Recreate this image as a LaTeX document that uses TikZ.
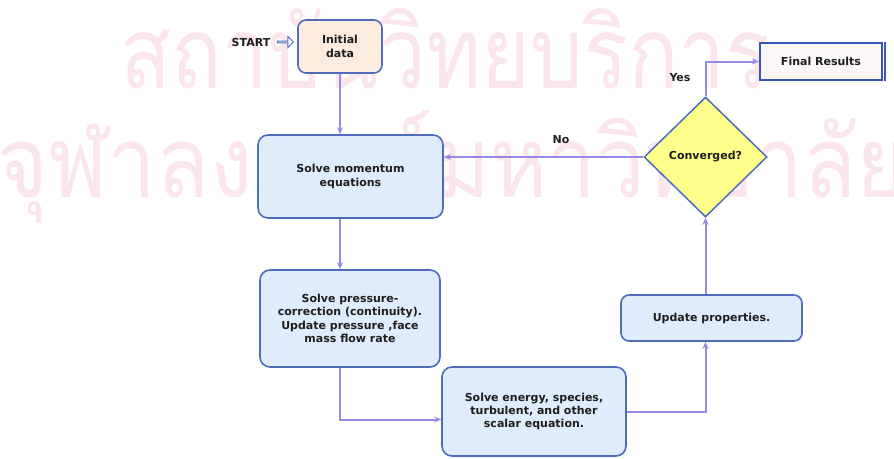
\documentclass[tikz,border=0pt]{standalone}
\usepackage{fontspec}
\setmainfont{DejaVu Sans}
\newfontfamily\thaifont[Script=Thai]{Loma}
\usepackage{graphicx}
\usetikzlibrary{arrows.meta,shapes.geometric,shapes.arrows,calc}
\definecolor{wmpink}{RGB}{251,230,236}
\definecolor{boxblue}{RGB}{222,236,252}
\definecolor{peach}{RGB}{252,236,224}
\definecolor{edgeblue}{RGB}{78,108,185}
\definecolor{finalblue}{RGB}{55,85,185}
\definecolor{finalfill}{RGB}{252,247,247}
\definecolor{linepurple}{RGB}{150,138,232}
\definecolor{diamyellow}{RGB}{255,255,140}
\definecolor{txt}{RGB}{30,30,30}
\begin{document}
\begin{tikzpicture}[x=1pt,y=-1pt,
  lbl/.style={font=\fontsize{11}{13.3}\selectfont\bfseries, text=txt, inner sep=0pt},
  procbox/.style={lbl, draw=edgeblue, line width=1.6pt, fill=boxblue,
    rounded corners=10pt, align=center},
  flow/.style={draw=linepurple, line width=2pt, -{Stealth[length=7pt,width=6pt]}},
  wmark/.style={font=\normalfont, text=wmpink, inner sep=0pt}
]
\useasboundingbox (0,0) rectangle (894,458);
\clip (0,0) rectangle (894,458);
% watermark
\node[wmark, anchor=base west] (wm1) at (120,88)
  {\resizebox{650pt}{80pt}{\thaifont สถาบันวิทยบริการ}};
\node[wmark, anchor=base west] (wm2) at (-3,197)
  {\resizebox{910pt}{87pt}{\thaifont จุฬาลงกรณ์มหาวิทยาลัย}};
% nodes
\node[lbl] (start) at (251,42) {START};
\node[single arrow, draw=edgeblue, fill=white, line width=0.9pt,
  minimum height=16pt, minimum width=11pt, single arrow head extend=2.5pt,
  inner sep=0pt] (sarrow) at (285,42) {};
\node[procbox, fill=peach, rounded corners=8pt, minimum width=84pt,
  minimum height=53pt] (init) at (340,46.5) {Initial\\data};
\node[procbox, minimum width=185pt, minimum height=83pt] (mom) at (350.5,176.5)
  {Solve momentum\\equations};
\node[procbox, minimum width=180pt, minimum height=97pt] (pres) at (350,318.5)
  {Solve pressure-\\correction (continuity).\\Update pressure ,face\\mass flow rate};
\node[procbox, minimum width=184pt, minimum height=89pt] (energy) at (534,411.5)
  {Solve energy, species,\\turbulent, and other\\scalar equation.};
\node[procbox, minimum width=181pt, minimum height=46pt, rounded corners=8pt]
  (upd) at (711.5,318) {Update properties.};
\node[lbl, diamond, draw=edgeblue, line width=1.5pt, fill=diamyellow,
  minimum width=123pt, minimum height=120pt] (conv) at (705.5,157) {Converged?};
\node[lbl, draw=finalblue, line width=2.2pt, fill=finalfill,
  minimum width=122pt, minimum height=37pt] (final) at (821,61.5) {Final Results};
\draw[finalblue, line width=2.6pt] ([xshift=1.8pt]final.north east) -- ([xshift=1.8pt]final.south east);
\node[lbl] (nolbl) at (561,140) {No};
\node[lbl] (yeslbl) at (680,78) {Yes};
% connectors
\draw[flow] (init.south) -- (init.south |- mom.north);
\draw[flow] (mom.south -| init.south) -- (pres.north -| init.south);
\draw[flow] (pres.south -| init.south) |- ([yshift=-8pt]energy.west);
\draw[flow] (energy.east) -| (upd.south -| conv.south);
\draw[flow] (upd.north -| conv.south) -- (conv.south);
\draw[flow] (conv.west) -- (conv.west -| mom.east);
\draw[flow] (conv.north) |- (final.west);
\end{tikzpicture}
\end{document}
